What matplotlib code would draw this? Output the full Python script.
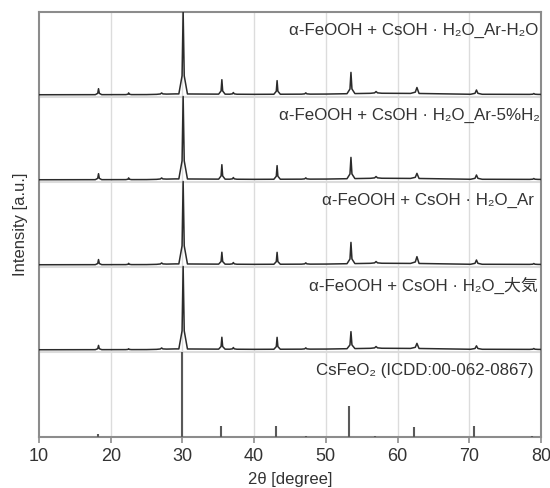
import matplotlib
matplotlib.use("Agg")
import matplotlib.pyplot as plt
import numpy as np

# ----------------------------------------------------------------------
#  DATA
# ----------------------------------------------------------------------
labels = [
    "α-FeOOH + CsOH · H₂O_Ar-H₂O",
    "α-FeOOH + CsOH · H₂O_Ar-5%H₂",
    "α-FeOOH + CsOH · H₂O_Ar",
    "α-FeOOH + CsOH · H₂O_大気",
]
ref_label = "CsFeO₂ (ICDD:00-062-0867)"

# peak positions of the measured patterns [deg]
peak_pos = [18.3, 22.5, 27.1, 30.1, 35.5, 37.1, 43.2, 47.2, 53.5, 57.0, 62.7, 71.0, 79.0]
peak_wid = [0.45, 0.4, 0.7, 0.6, 0.45, 0.5, 0.45, 0.6, 0.55, 0.8, 0.9, 0.8, 0.6]
# peak heights (fraction of one panel) for each sample, top to bottom
peak_h_arh2o = [0.07, 0.02, 0.015, 0.97, 0.17, 0.02, 0.16, 0.015, 0.25, 0.02, 0.07, 0.05, 0.01]
peak_h_arh2 = [0.07, 0.02, 0.015, 0.97, 0.17, 0.02, 0.16, 0.015, 0.25, 0.02, 0.06, 0.05, 0.01]
peak_h_ar = [0.06, 0.015, 0.015, 0.97, 0.14, 0.02, 0.14, 0.015, 0.25, 0.02, 0.08, 0.05, 0.01]
peak_h_air = [0.05, 0.01, 0.015, 0.97, 0.14, 0.02, 0.14, 0.015, 0.20, 0.02, 0.06, 0.04, 0.01]
peak_heights = [peak_h_arh2o, peak_h_arh2, peak_h_ar, peak_h_air]

# background level (fraction of a panel)
bg_x = [10, 25, 29, 40, 50, 57, 63, 70, 80]
bg_y = [0.030, 0.032, 0.040, 0.035, 0.038, 0.048, 0.045, 0.036, 0.034]

# reference sticks CsFeO2 (ICDD:00-062-0867)
ref_pos = [18.2, 30.0, 35.4, 43.0, 47.2, 53.2, 56.9, 62.3, 70.7, 78.7]
ref_int = [0.04, 1.00, 0.13, 0.13, 0.01, 0.37, 0.015, 0.12, 0.13, 0.02]

label_x = [79.6, 79.8, 79.0, 79.6, 78.9]

# ----------------------------------------------------------------------
#  PLOT
# ----------------------------------------------------------------------
plt.rcParams['font.family'] = ['Liberation Sans', 'Noto Sans CJK JP', 'DejaVu Sans']

fig = plt.figure(figsize=(5.5, 4.88), dpi=100)
ax = fig.add_axes([39 / 550, 1 - 437.3 / 488, 502 / 550, 425 / 488])

n_panel = 5
spine_c = '#8c8c8c'
grid_c = '#dcdcdc'
text_c = '#333333'

for xv in [20, 30, 40, 50, 60, 70]:
    ax.axvline(xv, color=grid_c, lw=1.0, zorder=0)
for k in range(1, n_panel):
    ax.axhline(k, color=grid_c, lw=1.5, zorder=0)


def build_trace(heights):
    xs = list(bg_x)
    for c, w in zip(peak_pos, peak_wid):
        xs += [c - w, c - w * 0.25, c, c + w * 0.25, c + w]
    xs = np.array(sorted(set(xs)))
    ys = np.interp(xs, bg_x, bg_y)
    for c, w, h in zip(peak_pos, peak_wid, heights):
        ys[np.isclose(xs, c)] += h
        ys[np.isclose(xs, c - w * 0.25)] += h * 0.22
        ys[np.isclose(xs, c + w * 0.25)] += h * 0.22
    return xs, ys


for i, heights in enumerate(peak_heights):
    offset = n_panel - 1 - i
    xs, ys = build_trace(heights)
    ax.plot(xs, ys + offset, color='#2b2b2b', lw=1.1, zorder=3)
    ax.text(label_x[i], offset + 0.79, labels[i], ha='right', va='center',
            fontsize=12.2, color=text_c)

ax.vlines(ref_pos, 0, ref_int, color='#595959', lw=1.5, zorder=3)
ax.text(label_x[4], 0.79, ref_label, ha='right', va='center',
        fontsize=12.2, color=text_c)

ax.set_xlim(10, 80)
ax.set_ylim(0, n_panel)
ax.set_xticks([10, 20, 30, 40, 50, 60, 70, 80])
ax.set_yticks([])
ax.tick_params(axis='x', direction='out', length=4, width=1.2, color=spine_c,
               labelsize=13, labelcolor=text_c, pad=4)
for s in ax.spines.values():
    s.set_color(spine_c)
    s.set_linewidth(1.5)

ax.set_xlabel('2θ [degree]', fontsize=12, color=text_c, labelpad=5)
ax.set_ylabel('Intensity [a.u.]', fontsize=12, color=text_c, labelpad=8)

fig.savefig('out.png', dpi=100)
